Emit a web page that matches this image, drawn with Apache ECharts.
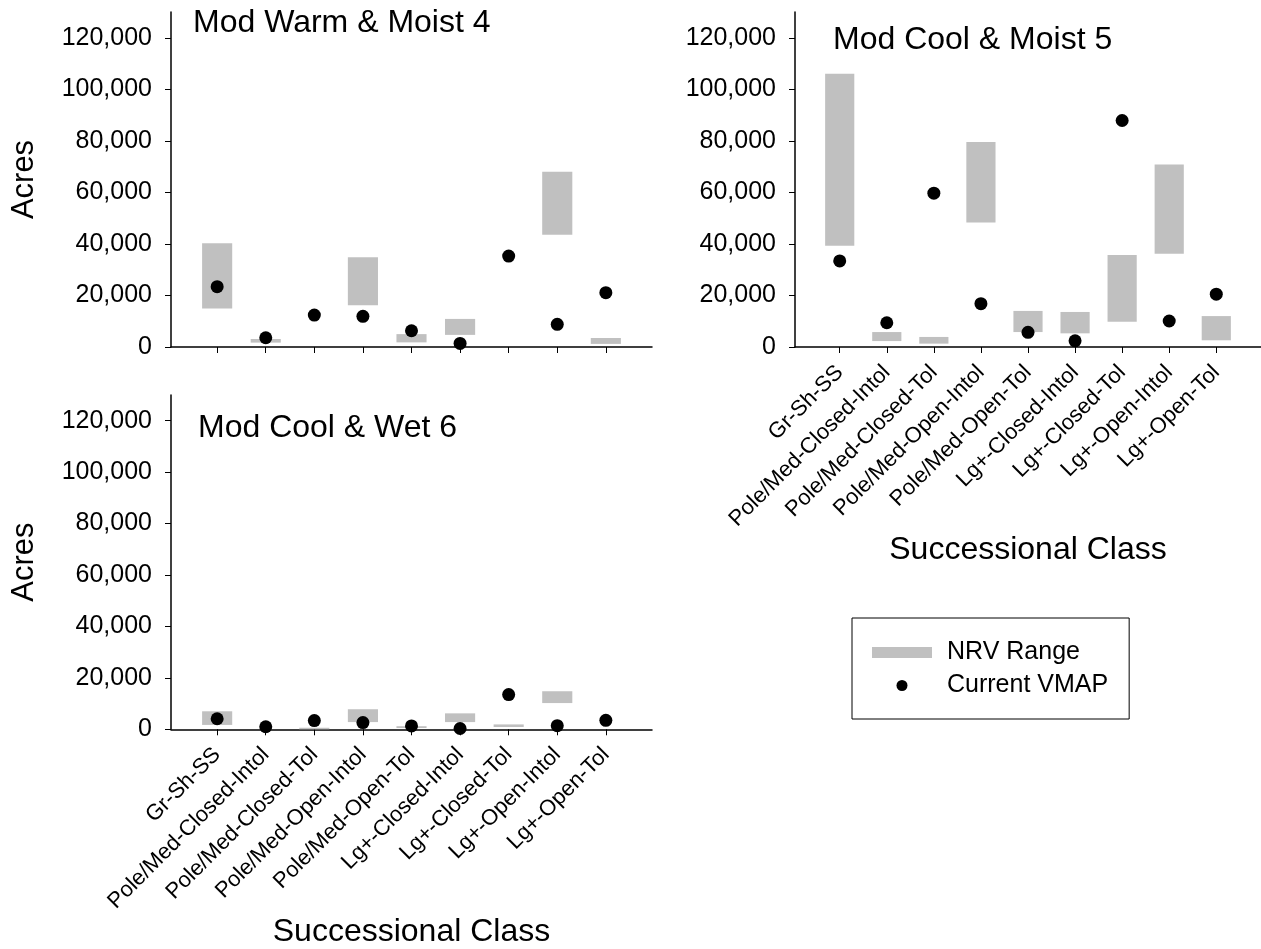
<!DOCTYPE html>
<html>
<head>
<meta charset="utf-8">
<script src="https://cdn.jsdelivr.net/npm/echarts@6/dist/echarts.min.js"></script>
<style>
html,body{margin:0;padding:0;background:#fff;}
#chart{width:1261px;height:949px;}
</style>
</head>
<body>
<div id="chart"></div>
<script>
// ---------- data ----------
const categories = ['Gr-Sh-SS','Pole/Med-Closed-Intol','Pole/Med-Closed-Tol','Pole/Med-Open-Intol','Pole/Med-Open-Tol','Lg+-Closed-Intol','Lg+-Closed-Tol','Lg+-Open-Intol','Lg+-Open-Tol'];
const yTickValues = [0,20000,40000,60000,80000,100000,120000];
const panelTitles = ['Mod Warm & Moist 4','Mod Cool & Moist 5','Mod Cool & Wet 6'];

// Mod Warm & Moist 4
const nrvLow4  = [14900, 1700, null, 16200, 1800, 4700, null, 43600, 1200];
const nrvHigh4 = [40300, 3100, null, 34800, 5000, 10900, null, 68000, 3500];
const vmap4    = [23400, 3600, 12400, 11900, 6300, 1400, 35300, 8800, 21100];

// Mod Cool & Moist 5
const nrvLow5  = [39300, 2300, 1300, 48300, 5800, 5300, 9800, 36200, 2600];
const nrvHigh5 = [106000, 5800, 3900, 79600, 14000, 13600, 35700, 70800, 12000];
const vmap5    = [33400, 9400, 59700, 16800, 5700, 2400, 87900, 10100, 20500];

// Mod Cool & Wet 6
const nrvLow6  = [1700, null, 0, 2800, 500, 2800, 900, 10200, null];
const nrvHigh6 = [7000, null, 600, 7800, 1200, 6200, 1900, 14800, null];
const vmap6    = [4100, 1000, 3400, 2600, 1300, 300, 13500, 1400, 3500];

// ---------- chart ----------
const FONT = '"Liberation Sans", Arial, Helvetica, sans-serif';
const panels = [
  {low: nrvLow4, high: nrvHigh4, vmap: vmap4},
  {low: nrvLow5, high: nrvHigh5, vmap: vmap5},
  {low: nrvLow6, high: nrvHigh6, vmap: vmap6}
];
const catIdx = categories.map((_, i) => i);
const axisLineStyle = {color: '#000', width: 1.5};

const grids = [
  {left: 171, top: 12, width: 481, height: 335},
  {left: 795, top: 12, width: 481, height: 335},
  {left: 171, top: 395, width: 481, height: 335}
];

const xAxes = grids.map((g, gi) => ({
  type: 'value', gridIndex: gi, min: -0.95, max: 8.95,
  axisLine: {show: true, onZero: false, lineStyle: axisLineStyle},
  axisTick: {show: true, length: 6, customValues: catIdx, lineStyle: {color: '#000', width: 1}},
  axisLabel: {show: gi !== 0, customValues: catIdx, formatter: v => categories[Math.round(v)] || '',
    rotate: 45, fontSize: 22, margin: 22, color: '#000', fontFamily: FONT},
  splitLine: {show: false},
  name: gi !== 0 ? 'Successional Class' : '',
  nameLocation: 'middle', nameGap: 181,
  nameTextStyle: {fontSize: 32, color: '#000', fontFamily: FONT}
}));

const yAxes = grids.map((g, gi) => ({
  type: 'value', gridIndex: gi, min: 0, max: 130000,
  axisLine: {show: true, onZero: false, lineStyle: axisLineStyle},
  axisTick: {show: true, length: 6, customValues: yTickValues, lineStyle: {color: '#000', width: 1}},
  axisLabel: {customValues: yTickValues, formatter: v => v.toLocaleString('en-US'),
    fontSize: 25, margin: 19, color: '#000', fontFamily: FONT},
  splitLine: {show: false},
  name: gi !== 1 ? 'Acres' : '',
  nameLocation: 'middle', nameGap: 131,
  nameTextStyle: {fontSize: 31, color: '#000', fontFamily: FONT}
}));

const series = [];
panels.forEach((p, gi) => {
  const rangeData = [];
  categories.forEach((c, i) => {
    if (p.low[i] !== null && p.high[i] !== null) rangeData.push([i, p.low[i], p.high[i]]);
  });
  series.push({
    type: 'custom', name: 'NRV Range', xAxisIndex: gi, yAxisIndex: gi,
    itemStyle: {color: '#c0c0c0'},
    encode: {x: 0, y: [1, 2]},
    data: rangeData,
    renderItem: (params, api) => {
      const x = api.value(0);
      const top = api.coord([x, api.value(2)]);
      const bot = api.coord([x, api.value(1)]);
      const w = api.size([1, 0])[0] * 0.62;
      return {
        type: 'rect',
        shape: {x: top[0] - w / 2, y: top[1], width: w, height: Math.max(bot[1] - top[1], 1)},
        style: {fill: '#c0c0c0'}
      };
    },
    z: 2
  });
  series.push({
    type: 'scatter', name: 'Current VMAP', xAxisIndex: gi, yAxisIndex: gi,
    symbol: 'circle', symbolSize: 13,
    itemStyle: {color: '#000', opacity: 1},
    data: p.vmap.map((v, i) => [i, v]),
    z: 3
  });
});

const titleStyle = {fontSize: 32, fontWeight: 'normal', color: '#000', fontFamily: FONT};
const option = {
  animation: false,
  backgroundColor: '#fff',
  textStyle: {fontFamily: FONT},
  title: [
    {text: panelTitles[0], left: 193, top: 7, padding: 0, textStyle: titleStyle},
    {text: panelTitles[1], left: 833, top: 24, padding: 0, textStyle: titleStyle},
    {text: panelTitles[2], left: 198, top: 412, padding: 0, textStyle: titleStyle}
  ],
  legend: {
    orient: 'vertical', left: 852, top: 618,
    padding: [22, 21, 21, 20],
    borderColor: '#000', borderWidth: 1,
    itemWidth: 60, itemHeight: 11, itemGap: 8,
    textStyle: {fontSize: 25, color: '#000', fontFamily: FONT, padding: [0, 0, 0, 10]},
    data: [
      {name: 'NRV Range', icon: 'rect', itemStyle: {color: '#c0c0c0', opacity: 1}},
      {name: 'Current VMAP', icon: 'circle', itemStyle: {color: '#000', opacity: 1}}
    ]
  },
  grid: grids,
  xAxis: xAxes,
  yAxis: yAxes,
  series: series
};

const chart = echarts.init(document.getElementById('chart'), null, {renderer: 'canvas'});
chart.setOption(option);
</script>
</body>
</html>
